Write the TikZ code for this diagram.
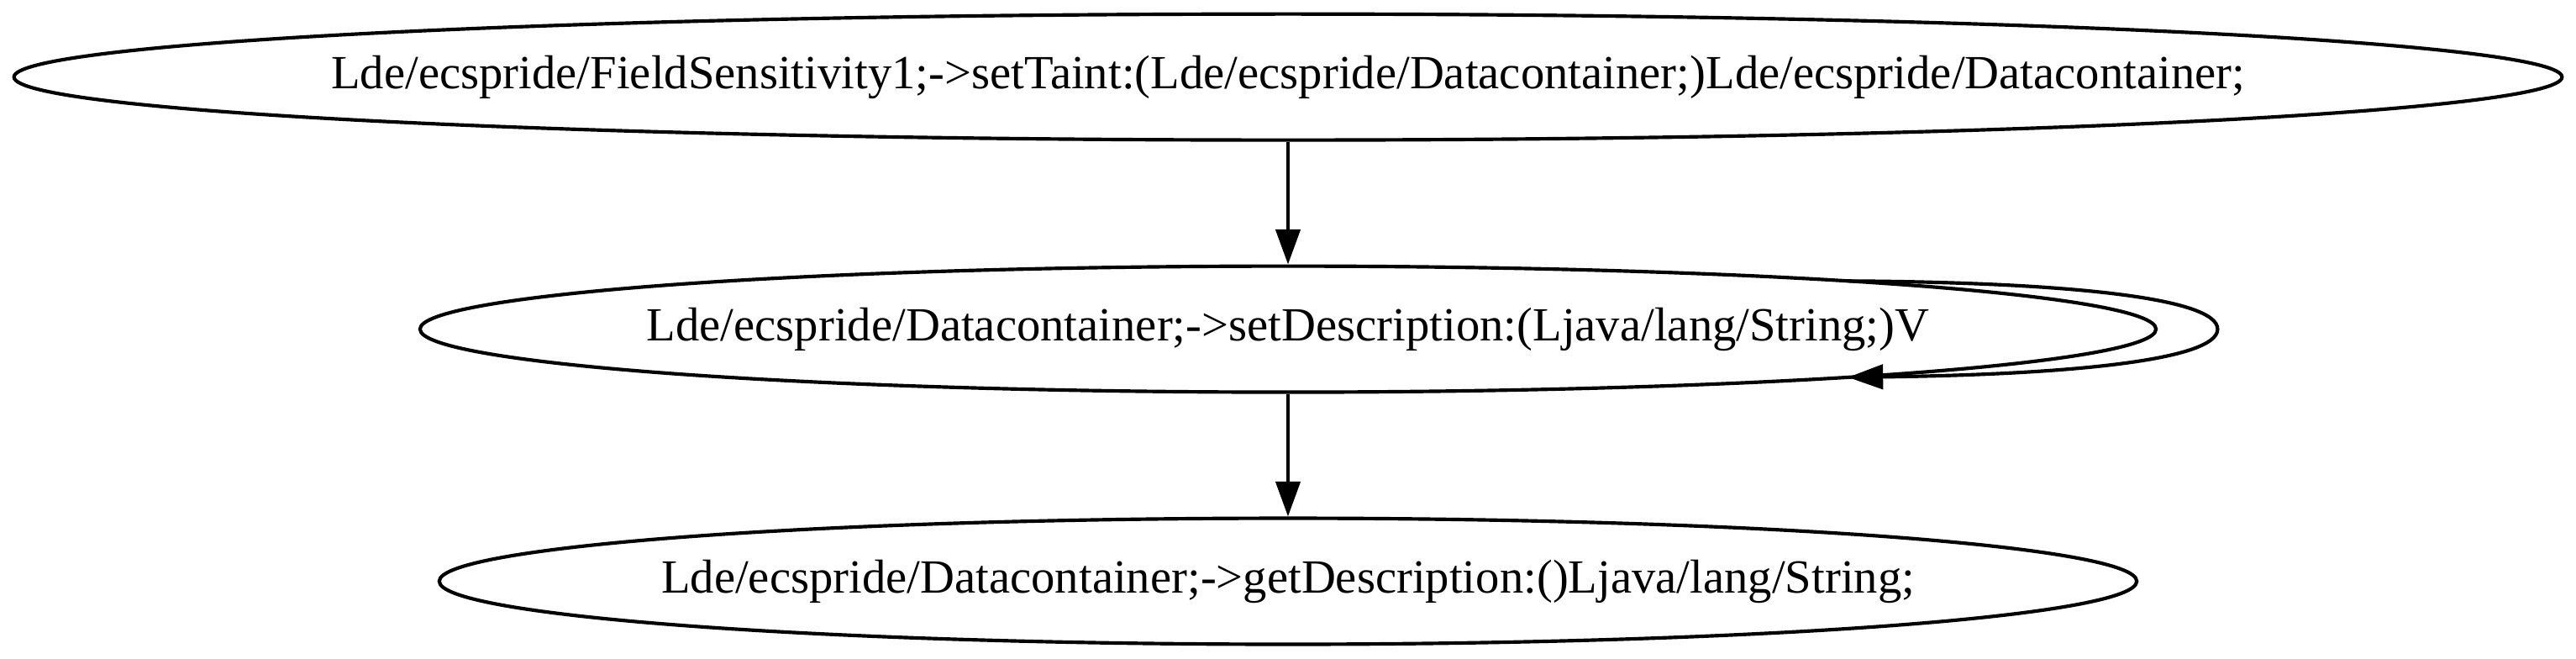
\documentclass[tikz,border=0pt]{standalone}
\usepackage{fontspec}
\setmainfont{Liberation Serif}
\usetikzlibrary{shapes.geometric,arrows.meta,calc}
\begin{document}
\begin{tikzpicture}[x=1pt,y=1pt,
  gnode/.style={ellipse,draw,line width=1pt,inner sep=0pt,minimum height=36pt,
    font=\fontsize{13.6pt}{16.3pt}\selectfont},
  gedge/.style={line width=1pt,-{Triangle[length=10pt,width=7pt]}}]
\useasboundingbox (0,0) rectangle (736,188);
\node[gnode,minimum width=728pt] (top) at (368,166)
  {\makebox[0pt]{Lde/ecspride/FieldSensitivity1;->setTaint:(Lde/ecspride/Datacontainer;)Lde/ecspride/Datacontainer;}};
\node[gnode,minimum width=496pt] (mid) at (368,94)
  {\makebox[0pt]{Lde/ecspride/Datacontainer;->setDescription:(Ljava/lang/String;)V}};
\node[gnode,minimum width=485pt] (bot) at (368,22)
  {\makebox[0pt]{Lde/ecspride/Datacontainer;->getDescription:()Ljava/lang/String;}};
\coordinate (loopout) at ($(mid.center)+(160,13.75)$);
\coordinate (loopin) at ($(mid.center)+(160,-13.75)$);
\coordinate (loopfar) at ($(mid.center)+(265.6,0)$);
\draw[gedge] (top) -- (mid);
\draw[gedge] (mid) -- (bot);
\draw[gedge] (loopout) .. controls (590,107.4) and (633.6,103) .. (loopfar)
  .. controls (633.6,85) and (590,81) .. (loopin);
\end{tikzpicture}
\end{document}
